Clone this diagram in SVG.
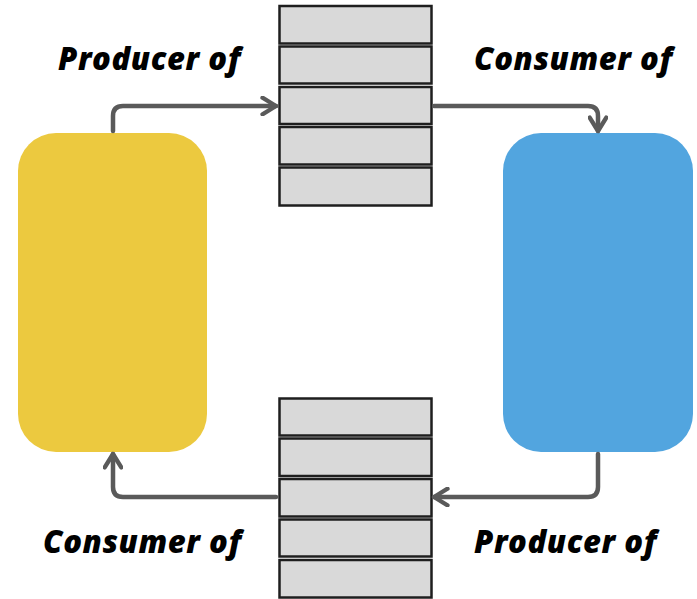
<svg xmlns="http://www.w3.org/2000/svg" width="697" height="599" viewBox="0 0 697 599">
  <style>
    .cell { fill: #d9d9d9; stroke: #1e1e1e; stroke-width: 2.5; }
    .label { font-family: "Open Sans", "Liberation Sans", sans-serif; font-weight: 800; font-style: italic; font-size: 31px; letter-spacing: 0.6px; fill: #000; }
    .flow { fill: none; stroke: #5a5a5a; stroke-width: 4.5; stroke-linecap: round; stroke-linejoin: round; }
  </style>
  <defs>
    <marker id="arrow" viewBox="0 0 10 10" refX="8.5" refY="5" markerWidth="4.6" markerHeight="4.6" markerUnits="strokeWidth" orient="auto">
      <path d="M2,1 L8.5,5 L2,9" fill="none" stroke="#5a5a5a" stroke-width="2.1" stroke-linecap="round" stroke-linejoin="round"/>
    </marker>
  </defs>
  <rect width="697" height="599" fill="#ffffff"/>

  <!-- producer / consumer blocks -->
  <g id="yellow-process">
    <rect x="18" y="133" width="189" height="319" rx="38" fill="#ecc93f"/>
  </g>
  <g id="blue-process">
    <rect x="503" y="133" width="190" height="319" rx="38" fill="#52a5df"/>
  </g>

  <!-- top queue -->
  <g id="queue-top">
    <rect class="cell" x="279.5" y="6" width="152" height="37.5"/>
    <rect class="cell" x="279.5" y="46.5" width="152" height="37"/>
    <rect class="cell" x="279.5" y="87" width="152" height="37"/>
    <rect class="cell" x="279.5" y="127" width="152" height="37.5"/>
    <rect class="cell" x="279.5" y="167.5" width="152" height="38"/>
  </g>

  <!-- bottom queue -->
  <g id="queue-bottom">
    <rect class="cell" x="279.5" y="398.5" width="152" height="37"/>
    <rect class="cell" x="279.5" y="438.5" width="152" height="37.5"/>
    <rect class="cell" x="279.5" y="479" width="152" height="37.5"/>
    <rect class="cell" x="279.5" y="519.5" width="152" height="37"/>
    <rect class="cell" x="279.5" y="560" width="152" height="37.5"/>
  </g>

  <!-- connectors -->
  <g id="connectors">
    <path class="flow" d="M113,131 V116 Q113,106 123,106 H276" marker-end="url(#arrow)"/>
    <path class="flow" d="M434,106 H588 Q598,106 598,116 V131" marker-end="url(#arrow)"/>
    <path class="flow" d="M598,454 V487 Q598,497 588,497 H434" marker-end="url(#arrow)"/>
    <path class="flow" d="M276,497 H123 Q113,497 113,487 V454" marker-end="url(#arrow)"/>
  </g>

  <!-- labels -->
  <g id="labels">
    <text class="label" x="58" y="70">Producer of</text>
    <text class="label" x="474" y="70">Consumer of</text>
    <text class="label" x="43" y="553">Consumer of</text>
    <text class="label" x="474" y="553">Producer of</text>
  </g>
</svg>
